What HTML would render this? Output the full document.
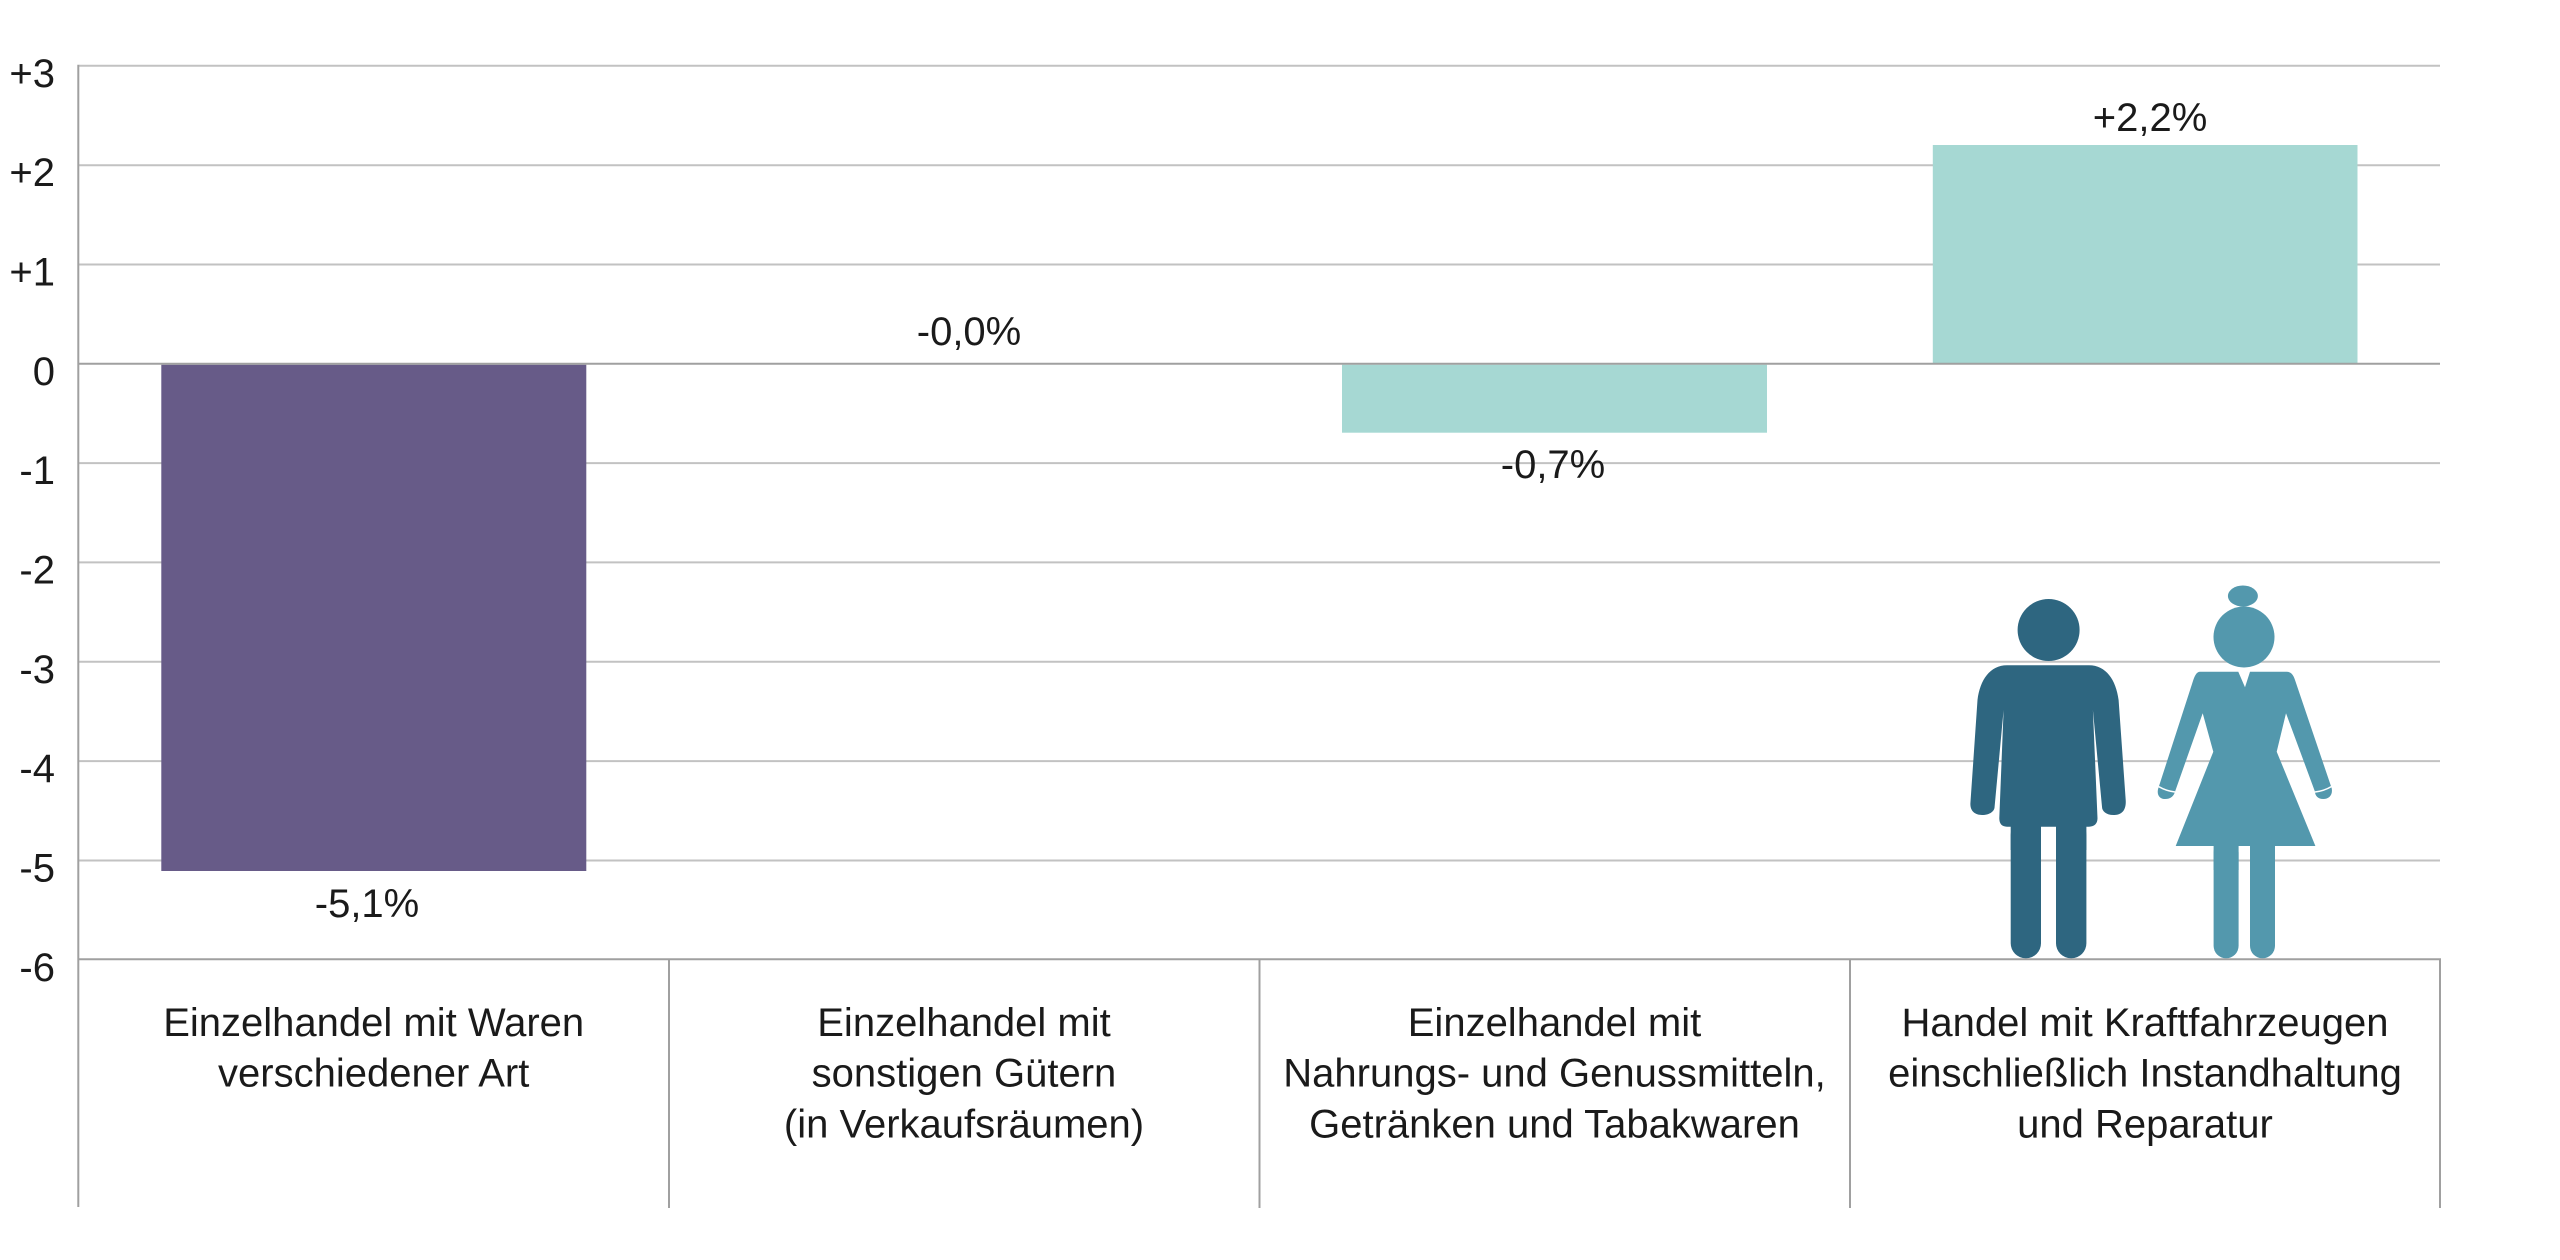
<!DOCTYPE html>
<html>
<head>
<meta charset="utf-8">
<style>
  html, body { margin: 0; padding: 0; background: #ffffff; }
  svg { display: block; }
  text { font-family: "Liberation Sans", Arial, sans-serif; fill: #1a1a1a; }
</style>
</head>
<body>
<svg width="2560" height="1260" viewBox="0 0 2560 1260" xmlns="http://www.w3.org/2000/svg">
  <rect x="0" y="0" width="2560" height="1260" fill="#ffffff"/>

  <!-- light gridlines -->
  <g stroke="#c2c2c2" stroke-width="2">
    <line x1="79" y1="65.8" x2="2440" y2="65.8"/>
    <line x1="79" y1="165.2" x2="2440" y2="165.2"/>
    <line x1="79" y1="264.5" x2="2440" y2="264.5"/>
    <line x1="79" y1="463.1" x2="2440" y2="463.1"/>
    <line x1="79" y1="562.4" x2="2440" y2="562.4"/>
    <line x1="79" y1="661.8" x2="2440" y2="661.8"/>
    <line x1="79" y1="761.1" x2="2440" y2="761.1"/>
    <line x1="79" y1="860.5" x2="2440" y2="860.5"/>
  </g>

  <!-- bars -->
  <rect x="161.3" y="364.7" width="425" height="506.3" fill="#675b88"/>
  <rect x="1342" y="364.7" width="425" height="68" fill="#a6d8d3"/>
  <rect x="1932.8" y="145" width="424.7" height="218.7" fill="#a6d8d3"/>

  <!-- zero line, bottom line, axis, separators -->
  <g stroke="#a0a0a0" stroke-width="2">
    <line x1="78" y1="363.7" x2="2440" y2="363.7"/>
    <line x1="78" y1="959.3" x2="2441" y2="959.3"/>
    <line x1="78.3" y1="64.8" x2="78.3" y2="1207"/>
    <line x1="669" y1="959.3" x2="669" y2="1208"/>
    <line x1="1259.5" y1="959.3" x2="1259.5" y2="1208"/>
    <line x1="1850" y1="959.3" x2="1850" y2="1208"/>
    <line x1="2440" y1="959.3" x2="2440" y2="1208"/>
  </g>

  <!-- y-axis tick labels -->
  <g font-size="40" text-anchor="end">
    <text x="55" y="87">+3</text>
    <text x="55" y="186">+2</text>
    <text x="55" y="285.5">+1</text>
    <text x="55" y="385">0</text>
    <text x="55" y="484">-1</text>
    <text x="55" y="583.5">-2</text>
    <text x="55" y="683">-3</text>
    <text x="55" y="782">-4</text>
    <text x="55" y="881.5">-5</text>
    <text x="55" y="981">-6</text>
  </g>

  <!-- value labels -->
  <g font-size="40" text-anchor="middle">
    <text x="367" y="917">-5,1%</text>
    <text x="969" y="345">-0,0%</text>
    <text x="1553" y="478">-0,7%</text>
    <text x="2150" y="131">+2,2%</text>
  </g>

  <!-- category labels -->
  <g font-size="40" text-anchor="middle">
    <text x="373.7" y="1036">Einzelhandel mit Waren</text>
    <text x="373.7" y="1086.7">verschiedener Art</text>

    <text x="964" y="1036">Einzelhandel mit</text>
    <text x="964" y="1086.7">sonstigen Gütern</text>
    <text x="964" y="1137.4">(in Verkaufsräumen)</text>

    <text x="1554.5" y="1036">Einzelhandel mit</text>
    <text x="1554.5" y="1086.7">Nahrungs- und Genussmitteln,</text>
    <text x="1554.5" y="1137.4">Getränken und Tabakwaren</text>

    <text x="2145" y="1036">Handel mit Kraftfahrzeugen</text>
    <text x="2145" y="1086.7">einschließlich Instandhaltung</text>
    <text x="2145" y="1137.4">und Reparatur</text>
  </g>

  <!-- man figure -->
  <g fill="#2e6680">
    <circle cx="2048.6" cy="630" r="31"/>
    <path d="M2007,665.3 L2089,665.3
             C2106,665.3 2116,680 2118.6,700
             L2125.7,800
             C2126.5,812 2120,815 2113.6,815
             C2106,815 2102,811 2102,806.7
             L2092.9,710
             L2097.5,818.3
             C2097.5,824 2094,826.7 2089,826.7
             L2007,826.7
             C2002,826.7 1999.3,824 1999.3,818.3
             L2003.6,710
             L1994.6,806.7
             C1994.6,811 1990,815 1982,815
             C1975,815 1970,811 1970.4,803.3
             L1977.5,700
             C1980,680 1990,665.3 2007,665.3 Z"/>
    <rect x="2010.7" y="820" width="30.3" height="138.3" rx="15" ry="15"/>
    <rect x="2056" y="820" width="30.4" height="138.3" rx="15" ry="15"/>
    <rect x="2010.7" y="820" width="30.3" height="30"/>
    <rect x="2056" y="820" width="30.4" height="30"/>
  </g>

  <!-- woman figure -->
  <g fill="#5398ad">
    <ellipse cx="2242.9" cy="596" rx="15" ry="10.5"/>
    <circle cx="2244" cy="637" r="30.5"/>
    <path d="M2200,671.7 L2238.3,671.7 L2245,687.3 L2250,671.7 L2286.7,671.7
             C2291,671.7 2293.5,675 2295,680
             L2331.7,788.3
             C2333,795 2329,799 2323.3,799
             C2318,799 2315,795.5 2315,791.7
             L2286,713.3
             L2276.7,751.7
             L2315.4,846
             L2175.7,846
             L2213.3,751.7
             L2202.7,713.3
             L2175,791.7
             C2174,795.5 2171,799 2165,799
             C2159,799 2156.5,794 2158.3,788.3
             L2193.3,680
             C2195,675 2197,671.7 2200,671.7 Z"/>
    <rect x="2213.6" y="840" width="25" height="118.3" rx="12.5" ry="12.5"/>
    <rect x="2250" y="840" width="25" height="118.3" rx="12.5" ry="12.5"/>
    <rect x="2213.6" y="840" width="25" height="30"/>
    <rect x="2250" y="840" width="25" height="30"/>
  </g>
  <!-- cuff lines -->
  <g stroke="#ffffff" stroke-width="1.5" fill="none">
    <path d="M2158.5,786.5 Q2166,791 2175,792"/>
    <path d="M2315,792 Q2324,791 2331.5,786.5"/>
  </g>
</svg>
</body>
</html>
